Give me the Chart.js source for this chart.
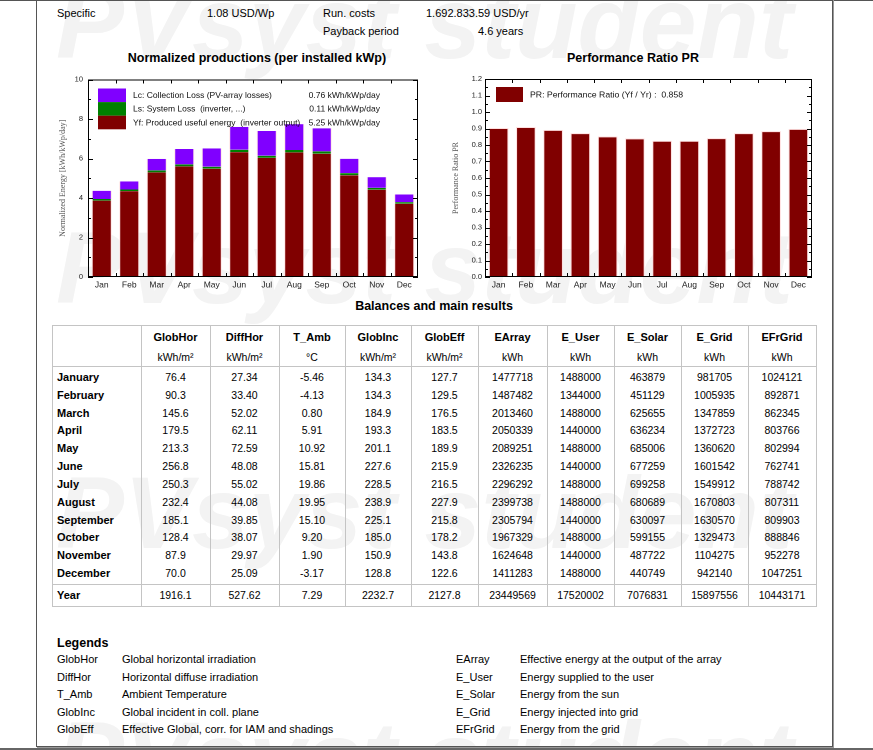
<!DOCTYPE html>
<html>
<head>
<meta charset="utf-8">
<script src="https://cdn.jsdelivr.net/npm/chart.js@4.4.1/dist/chart.umd.min.js"></script>
<style>
body{margin:0;width:873px;height:750px;overflow:hidden;background:#fff;position:relative;
  font-family:"Liberation Sans",Arial,sans-serif;color:#000}
.a{position:absolute;white-space:nowrap}
.wm{position:absolute;left:56px;font:italic bold 102px/1 "Liberation Sans",Arial,sans-serif;color:#f3f3f3;white-space:nowrap}
.top{font-size:11px;line-height:14px}
.ttl{font-size:12.5px;font-weight:bold;line-height:16px;text-align:center}
canvas{position:absolute}
#tbl{position:absolute;left:52px;top:325px;width:764px;height:282px;font-size:10.5px}
#tbl div{position:absolute;white-space:nowrap;line-height:14px;height:14px}
.hl{background:#c4c4c4;height:1px!important}
.vl{background:#c4c4c4;width:1px}
.lg{font-size:11px;line-height:14px}
</style>
</head>
<body>
<div class="wm" style="top:-28px">PVsyst student</div>
<div class="wm" style="top:217px">PVsyst student</div>
<div class="wm" style="top:462px">PVsyst student</div>
<div class="wm" style="top:707px">PVsyst student</div>

<div class="a" style="left:0;top:0;width:873px;height:1px;background:#555"></div>
<div class="a" style="left:36px;top:-2px;width:795px;height:747px;border:1px solid #555;box-shadow:1px 1px 0 #999"></div>
<div class="a" style="left:0;top:748px;width:873px;height:2px;background:#666"></div>

<div class="a top" style="left:57px;top:6px">Specific</div>
<div class="a top" style="left:207px;top:6px">1.08 USD/Wp</div>
<div class="a top" style="left:323px;top:6px">Run. costs</div>
<div class="a top" style="left:426px;top:6px">1.692.833.59 USD/yr</div>
<div class="a top" style="left:323px;top:24px">Payback period</div>
<div class="a top" style="left:478px;top:24px">4.6 years</div>

<div class="a ttl" style="left:57px;top:50px;width:400px">Normalized productions (per installed kWp)</div>
<div class="a ttl" style="left:483px;top:50px;width:300px">Performance Ratio PR</div>

<canvas id="prodChart" width="375" height="225" style="left:50px;top:70px;width:375px;height:225px"></canvas>
<canvas id="prChart" width="380" height="225" style="left:440px;top:70px;width:380px;height:225px"></canvas>

<div class="a ttl" style="left:234px;top:298px;width:400px">Balances and main results</div>

<div id="tbl"></div>

<div class="a" style="left:57px;top:635px;font-size:12.5px;font-weight:bold;line-height:16px">Legends</div>
<div id="legends"></div>

<script>
// chart data
const months = ['Jan', 'Feb', 'Mar', 'Apr', 'May', 'Jun', 'Jul', 'Aug', 'Sep', 'Oct', 'Nov', 'Dec'];
const yfValues = [3.87, 4.35, 5.30, 5.60, 5.48, 6.32, 6.03, 6.31, 6.24, 5.15, 4.42, 3.71];
const lsValues = [0.08, 0.08, 0.10, 0.10, 0.10, 0.12, 0.11, 0.12, 0.12, 0.11, 0.09, 0.08];
const lcValues = [0.42, 0.41, 0.58, 0.78, 0.93, 1.16, 1.25, 1.31, 1.17, 0.73, 0.55, 0.39];
const prValues = [0.903, 0.909, 0.892, 0.872, 0.852, 0.840, 0.826, 0.826, 0.842, 0.872, 0.884, 0.898];

const lossLabels = ['Lc: Collection Loss (PV-array losses)', 'Ls: System Loss  (inverter, ...)', 'Yf: Produced useful energy  (inverter output)'];
const lossValues = ['0.76 kWh/kWp/day', '0.11 kWh/kWp/day', '5.25 kWh/kWp/day'];
const prLabel = 'PR: Performance Ratio (Yf / Yr) :  0.858';

// table data
const colNames = ['GlobHor', 'DiffHor', 'T_Amb', 'GlobInc', 'GlobEff', 'EArray', 'E_User', 'E_Solar', 'E_Grid', 'EFrGrid'];
const colUnits = ['kWh/m²', 'kWh/m²', '°C', 'kWh/m²', 'kWh/m²', 'kWh', 'kWh', 'kWh', 'kWh', 'kWh'];
const rowNames = ['January', 'February', 'March', 'April', 'May', 'June', 'July', 'August', 'September', 'October', 'November', 'December', 'Year'];
const globHor = ['76.4', '90.3', '145.6', '179.5', '213.3', '256.8', '250.3', '232.4', '185.1', '128.4', '87.9', '70.0', '1916.1'];
const diffHor = ['27.34', '33.40', '52.02', '62.11', '72.59', '48.08', '55.02', '44.08', '39.85', '38.07', '29.97', '25.09', '527.62'];
const tAmb = ['-5.46', '-4.13', '0.80', '5.91', '10.92', '15.81', '19.86', '19.95', '15.10', '9.20', '1.90', '-3.17', '7.29'];
const globInc = ['134.3', '134.3', '184.9', '193.3', '201.1', '227.6', '228.5', '238.9', '225.1', '185.0', '150.9', '128.8', '2232.7'];
const globEff = ['127.7', '129.5', '176.5', '183.5', '189.9', '215.9', '216.5', '227.9', '215.8', '178.2', '143.8', '122.6', '2127.8'];
const eArray = ['1477718', '1487482', '2013460', '2050339', '2089251', '2326235', '2296292', '2399738', '2305794', '1967329', '1624648', '1411283', '23449569'];
const eUser = ['1488000', '1344000', '1488000', '1440000', '1488000', '1440000', '1488000', '1488000', '1440000', '1488000', '1440000', '1488000', '17520002'];
const eSolar = ['463879', '451129', '625655', '636234', '685006', '677259', '699258', '680689', '630097', '599155', '487722', '440749', '7076831'];
const eGrid = ['981705', '1005935', '1347859', '1372723', '1360620', '1601542', '1549912', '1670803', '1630570', '1329473', '1104275', '942140', '15897556'];
const eFrGrid = ['1024121', '892871', '862345', '803766', '802994', '762741', '788742', '807311', '809903', '888846', '952278', '1047251', '10443171'];

const legendLeftAbbr = ['GlobHor', 'DiffHor', 'T_Amb', 'GlobInc', 'GlobEff'];
const legendLeftDesc = ['Global horizontal irradiation', 'Horizontal diffuse irradiation', 'Ambient Temperature', 'Global incident in coll. plane', 'Effective Global, corr. for IAM and shadings'];
const legendRightAbbr = ['EArray', 'E_User', 'E_Solar', 'E_Grid', 'EFrGrid'];
const legendRightDesc = ['Effective energy at the output of the array', 'Energy supplied to the user', 'Energy from the sun', 'Energy injected into grid', 'Energy from the grid'];

const MAROON = '#800000';
const GREEN = '#008000';
const PURPLE = '#8000ff';

// frame around plot + inward ticks, like the PVsyst plots
const frameTicks = {
  id: 'frameTicks',
  afterDraw(chart) {
    const { ctx, chartArea: a, scales: { x, y } } = chart;
    ctx.save();
    ctx.strokeStyle = '#000';
    ctx.lineWidth = 1;
    ctx.strokeRect(a.left + 0.5, a.top + 0.5, a.width - 1, a.height - 1);
    ctx.beginPath();
    const vals = y.ticks.map(t => t.value);
    vals.forEach((v, i) => {
      const py = Math.round(y.getPixelForValue(v)) + 0.5;
      ctx.moveTo(a.left, py); ctx.lineTo(a.left + 5, py);
      ctx.moveTo(a.right, py); ctx.lineTo(a.right - 5, py);
      if (i < vals.length - 1) {
        const my = Math.round(y.getPixelForValue((v + vals[i + 1]) / 2)) + 0.5;
        ctx.moveTo(a.left, my); ctx.lineTo(a.left + 3, my);
        ctx.moveTo(a.right, my); ctx.lineTo(a.right - 3, my);
      }
    });
    for (let i = 0; i < months.length - 1; i++) {
      const px = Math.round((x.getPixelForValue(i) + x.getPixelForValue(i + 1)) / 2) + 0.5;
      ctx.moveTo(px, a.top); ctx.lineTo(px, a.top + 4);
      ctx.moveTo(px, a.bottom); ctx.lineTo(px, a.bottom - 4);
    }
    ctx.stroke();
    ctx.restore();
  }
};

function boxLegend(items, o) {
  return {
    id: 'boxLegend',
    afterDatasetsDraw(chart) {
      const { ctx, chartArea: a } = chart;
      ctx.save();
      ctx.font = o.fontSize + 'px "Liberation Sans", Arial, sans-serif';
      ctx.textBaseline = 'middle';
      items.forEach((it, i) => {
        const y0 = a.top + o.top + i * o.rowH;
        ctx.fillStyle = it.color;
        ctx.fillRect(a.left + o.left, y0, o.boxW, o.rowH);
        ctx.fillStyle = '#111';
        ctx.textAlign = 'left';
        ctx.fillText(it.label, a.left + o.textX, y0 + o.rowH / 2 + 0.5);
        if (it.value) {
          ctx.textAlign = 'right';
          ctx.fillText(it.value, a.left + o.valueX, y0 + o.rowH / 2 + 0.5);
        }
      });
      ctx.restore();
    }
  };
}

const tickFont = { family: '"Liberation Sans", Arial, sans-serif', size: 7.5 };
const xFont = { family: '"Liberation Sans", Arial, sans-serif', size: 8.5 };
const titleFont = { family: '"Liberation Serif", "Times New Roman", serif', size: 8 };

function xScale(stacked) {
  return {
    stacked,
    grid: { display: false, drawTicks: false },
    border: { display: false },
    ticks: { font: xFont, color: '#222', padding: 3, maxRotation: 0, autoSkip: false },
    afterFit(s) { s.height = 18; }
  };
}

new Chart(document.getElementById('prodChart'), {
  type: 'bar',
  data: {
    labels: months,
    datasets: [
      { label: 'Yf', data: yfValues, backgroundColor: MAROON },
      { label: 'Ls', data: lsValues, backgroundColor: GREEN },
      { label: 'Lc', data: lcValues, backgroundColor: PURPLE }
    ]
  },
  options: {
    responsive: false,
    animation: false,
    devicePixelRatio: 2,
    layout: { padding: { top: 9, right: 7, left: 0, bottom: 0 } },
    datasets: { bar: { barPercentage: 0.73, categoryPercentage: 1, borderWidth: { left: 1, right: 1, top: 0, bottom: 0 }, borderColor: 'rgba(255,215,215,0.7)' } },
    plugins: { legend: { display: false }, tooltip: { enabled: false } },
    scales: {
      x: xScale(true),
      y: {
        stacked: true, min: 0, max: 10,
        grid: { display: false, drawTicks: false },
        border: { display: false },
        ticks: { stepSize: 2, font: tickFont, color: '#222', padding: 5 },
        title: { display: true, text: 'Normalized Energy [kWh/kWp/day]', font: titleFont, color: '#555', padding: { top: 8, bottom: 0 } },
        afterFit(s) { s.width = 38; }
      }
    }
  },
  plugins: [frameTicks, boxLegend([
    { color: PURPLE, label: lossLabels[0], value: lossValues[0] },
    { color: GREEN, label: lossLabels[1], value: lossValues[1] },
    { color: MAROON, label: lossLabels[2], value: lossValues[2] }
  ], { left: 10, top: 9, boxW: 28, rowH: 13.6, textX: 45, valueX: 292, fontSize: 8.5 })]
});

new Chart(document.getElementById('prChart'), {
  type: 'bar',
  data: {
    labels: months,
    datasets: [{ label: 'PR', data: prValues, backgroundColor: MAROON, borderWidth: { left: 1, right: 1, top: 1, bottom: 0 }, borderColor: 'rgba(255,215,215,0.8)' }]
  },
  options: {
    responsive: false,
    animation: false,
    devicePixelRatio: 2,
    layout: { padding: { top: 9, right: 8, left: 0, bottom: 0 } },
    datasets: { bar: { barPercentage: 0.72, categoryPercentage: 1 } },
    plugins: { legend: { display: false }, tooltip: { enabled: false } },
    scales: {
      x: xScale(false),
      y: {
        min: 0, max: 1.2,
        grid: { display: false, drawTicks: false },
        border: { display: false },
        ticks: { stepSize: 0.1, font: tickFont, color: '#222', padding: 3, callback: v => v.toFixed(1) },
        title: { display: true, text: 'Performance Ratio PR', font: titleFont, color: '#555', padding: { top: 11, bottom: 0 } },
        afterFit(s) { s.width = 45; }
      }
    }
  },
  plugins: [frameTicks, boxLegend([
    { color: MAROON, label: prLabel }
  ], { left: 11, top: 8, boxW: 27, rowH: 15, textX: 45, fontSize: 8.7 })]
});

// results table
const columns = [globHor, diffHor, tAmb, globInc, globEff, eArray, eUser, eSolar, eGrid, eFrGrid];
const colWidths = [89, 69, 69, 66, 66, 67, 69, 67, 67, 67, 68];
const tbl = document.getElementById('tbl');
const lefts = [0];
colWidths.forEach(w => lefts.push(lefts[lefts.length - 1] + w));

function put(text, left, width, cy, extra) {
  const d = document.createElement('div');
  d.textContent = text;
  d.style.left = left + 'px';
  d.style.width = width + 'px';
  d.style.top = (cy - 7) + 'px';
  d.style.textAlign = extra && extra.align ? extra.align : 'center';
  if (extra && extra.bold) d.style.fontWeight = 'bold';
  if (extra && extra.size) d.style.fontSize = extra.size + 'px';
  tbl.appendChild(d);
}

colNames.forEach((n, c) => {
  put(n, lefts[c + 1], colWidths[c + 1], 12, { bold: true, size: 11 });
  put(colUnits[c], lefts[c + 1], colWidths[c + 1], 32);
});
rowNames.forEach((r, i) => {
  const cy = i < 12 ? 52 + i * 17.82 : 270;
  put(r, lefts[0] + 5, colWidths[0] - 5, cy, { bold: true, align: 'left', size: 11 });
  columns.forEach((col, c) => put(col[i], lefts[c + 1], colWidths[c + 1], cy));
});
[0, 41, 259, 281].forEach(y => {
  const d = document.createElement('div');
  d.className = 'hl';
  d.style.left = '0px'; d.style.top = y + 'px'; d.style.width = '765px';
  tbl.appendChild(d);
});
lefts.forEach(x => {
  const d = document.createElement('div');
  d.className = 'vl';
  d.style.left = x + 'px'; d.style.top = '0px'; d.style.height = '282px';
  tbl.appendChild(d);
});

// legends
const lg = document.getElementById('legends');
function lgText(text, left, cy) {
  const d = document.createElement('div');
  d.className = 'a lg';
  d.textContent = text;
  d.style.left = left + 'px';
  d.style.top = (cy - 7) + 'px';
  lg.appendChild(d);
}
legendLeftAbbr.forEach((t, i) => {
  const cy = 659 + i * 17.5;
  lgText(t, 57, cy);
  lgText(legendLeftDesc[i], 122, cy);
  lgText(legendRightAbbr[i], 456, cy);
  lgText(legendRightDesc[i], 520, cy);
});
</script>
</body>
</html>
